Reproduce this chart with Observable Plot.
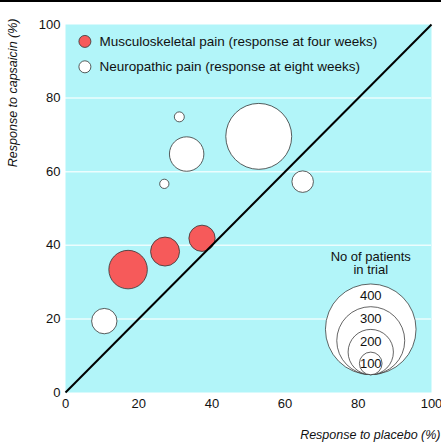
<!DOCTYPE html>
<html>
<head>
<meta charset="utf-8">
<script src="https://cdn.jsdelivr.net/npm/d3@7"></script>
<script src="https://cdn.jsdelivr.net/npm/@observablehq/plot@0.6"></script>
<style>
  body { margin: 0; background: #fff; }
  #chart { width: 441px; border-top: 2px solid #000; }
  #chart svg { font-family: "Liberation Sans Narrow", "Arial Narrow", "Liberation Sans", sans-serif; }
</style>
</head>
<body>
<div id="chart"></div>
<script>
// musculoskeletal trials (response at four weeks)
const muscPlacebo = [17.1, 27.2, 37.3]
const muscCapsaicin = [33.4, 38.3, 41.9]
const muscPatients = [170, 128, 116]

// neuropathic trials (response at eight weeks)
const neuroPlacebo = [52.8, 33.1, 31.1, 27.0, 64.8, 10.6]
const neuroCapsaicin = [69.6, 64.8, 74.9, 56.7, 57.3, 19.4]
const neuroPatients = [291, 152, 44, 41, 95, 112]

const ticks = [0, 20, 40, 60, 80, 100]
const gridLines = [20, 40, 60, 80]
const sizeKeys = [400, 300, 200, 100]

const musc = muscPlacebo.map((x, i) => ({x, y: muscCapsaicin[i], n: muscPatients[i]}))
const neuro = neuroPlacebo.map((x, i) => ({x, y: neuroCapsaicin[i], n: neuroPatients[i]}))

// size key: nested circles sitting on one base point
const pxPerUnit = 366 / 100
const rMax = 45.3
const keyX = 83.4, keyBase = 4.8
const rUnits = n => (n / 400) * rMax / pxPerUnit
const sizeKey = sizeKeys.map(n => ({n, y: keyBase + rUnits(n), ly: keyBase + 2 * rUnits(n) - 12 / pxPerUnit}))

let chart = Plot.plot({
  width: 441,
  height: 443,
  marginLeft: 65,
  marginRight: 10,
  marginTop: 22,
  marginBottom: 53,
  x: {domain: [0, 100]},
  y: {domain: [0, 100]},
  r: {type: 'linear', domain: [0, 400], range: [0, rMax]},
  style: {fontSize: '13px', color: '#111'},
  marks: [
    Plot.frame({fill: '#b2f5f9', stroke: null}),
    Plot.ruleY(gridLines, {stroke: 'white', strokeWidth: 1.5, strokeOpacity: 0.75}),
    Plot.axisX(ticks, {tickSize: 0, tickPadding: 6, label: null, fontSize: 13}),
    Plot.axisY(ticks, {tickSize: 0, tickPadding: 5, label: null, fontSize: 13}),
    Plot.dot(neuro, {x: 'x', y: 'y', r: 'n', fill: 'white', stroke: '#333', strokeWidth: 0.8}),
    Plot.dot(musc, {x: 'x', y: 'y', r: 'n', fill: '#f65a5a', stroke: '#333', strokeWidth: 0.8}),
    Plot.link([0], {x1: 0, y1: 0, x2: 100, y2: 100, stroke: '#000', strokeWidth: 2}),
    // legend
    Plot.dot([95.4, 88.5], {x: 5.3, y: d => d, r: 6, fill: ['#f65a5a', 'white'], stroke: '#333', strokeWidth: 0.8}),
    Plot.text(['Musculoskeletal pain (response at four weeks)', 'Neuropathic pain (response at eight weeks)'],
      {x: 9.3, y: [95.4, 88.5], text: d => d, textAnchor: 'start', fontSize: 13.5, fill: '#111'}),
    // size key
    Plot.text(['No of patients\nin trial'], {x: keyX, y: 35.2, text: d => d, fontSize: 13, lineHeight: 1.05, fill: '#111'}),
    Plot.dot(sizeKey, {x: keyX, y: 'y', r: 'n', fill: 'white', stroke: '#222', strokeWidth: 0.7}),
    Plot.text(sizeKey, {x: keyX, y: 'ly', text: 'n', fontSize: 13, fill: '#111'}),
    // axis titles
    Plot.text(['Response to capsaicin (%)'], {frameAnchor: 'top-left', text: d => d, rotate: -90, textAnchor: 'end', dx: -57, dy: -6, fontSize: 12.5, fontStyle: 'italic'}),
    Plot.text(['Response to placebo (%)'], {frameAnchor: 'bottom-right', text: d => d, textAnchor: 'end', dx: 9, dy: 46, fontSize: 12.5, fontStyle: 'italic'})
  ]
})
d3.select('#chart').append(() => chart)
</script>
</body>
</html>
